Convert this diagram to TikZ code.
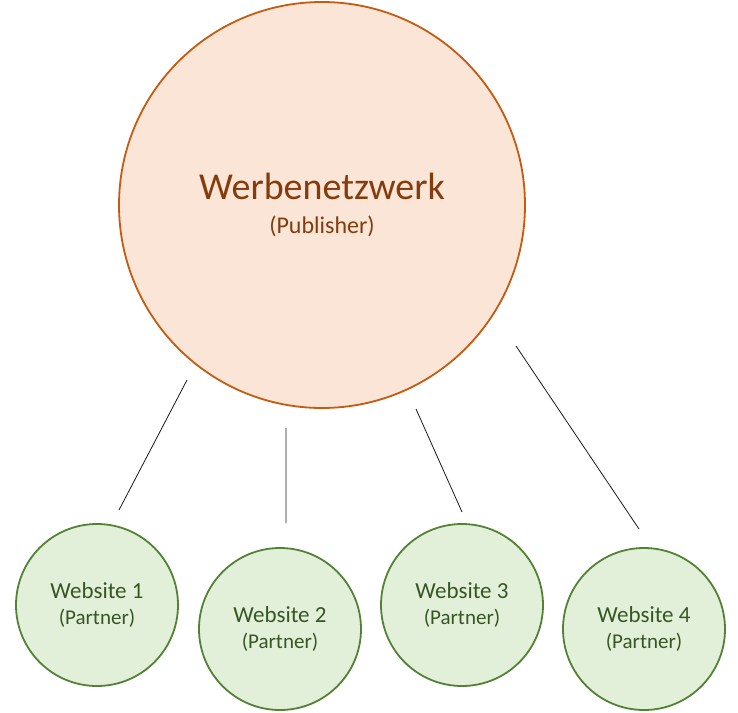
\documentclass[tikz,border=0pt]{standalone}
\usepackage{fontspec}
\setmainfont{Carlito}
\usepackage{tikz}
\usetikzlibrary{calc,positioning}
\definecolor{pubfill}{HTML}{FBE5D6}
\definecolor{publine}{HTML}{C55A11}
\definecolor{pubtext}{HTML}{843C0C}
\definecolor{sitefill}{HTML}{E2F0D9}
\definecolor{siteline}{HTML}{538135}
\definecolor{sitetext}{HTML}{375623}
\newcommand{\site}[1]{{\fontsize{23}{26}\selectfont Website #1}\\(Partner)}

\begin{document}
\begin{tikzpicture}[x=1pt,y=-1pt,
    pub/.style={circle,draw=publine,fill=pubfill,line width=1.8pt,minimum size=406pt,inner sep=0pt,
      text=pubtext,align=center,font=\fontsize{24}{34}\selectfont},
    site/.style={circle,draw=siteline,fill=sitefill,line width=1.8pt,minimum size=162pt,inner sep=0pt,
      text=sitetext,align=center,font=\fontsize{21}{26}\selectfont},
    link/.style={draw=black!90,line width=0.8pt}]
    \useasboundingbox (0,0) rectangle (738,712);

    \node[pub] (nw) at (322,205) {{\fontsize{38}{38}\selectfont Werbenetzwerk}\\(Publisher)};

    \node[site] (w1) at (97,605) {\site{1}};
    \node[site] (w2) at (280,629) {\site{2}};
    \node[site] (w3) at (462,605) {\site{3}};
    \node[site] (w4) at (644,629) {\site{4}};

    \coordinate (a1) at (187,380); \coordinate (b1) at (119,510);
    \coordinate (a2) at (286,428); \coordinate (b2) at (286,523);
    \coordinate (a3) at (416,409); \coordinate (b3) at (462,512);
    \coordinate (a4) at (516,346); \coordinate (b4) at (639,529);

    \draw[link]
    (a1) -- (b1)
    (a2) -- (b2)
    (a3) -- (b3)
    (a4) -- (b4);

  \end{tikzpicture}
\end{document}
